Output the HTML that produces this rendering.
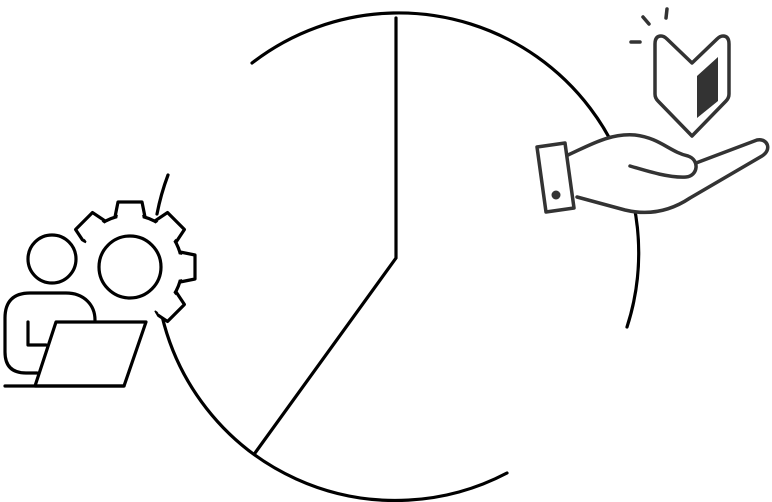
<!DOCTYPE html>
<html><head><style>html,body{margin:0;padding:0;background:#fff;}svg{display:block}</style></head>
<body>
<svg width="772" height="502" viewBox="0 0 772 502" xmlns="http://www.w3.org/2000/svg">
<defs>
<clipPath id="gc"><polygon points="130,267 42,220 60,160 240,160 240,330 178,354"/></clipPath>
</defs>
<g fill="none" stroke="#000" stroke-width="3.2" stroke-linecap="round">
<path d="M252,63 A240,240 0 0 1 627,327"/>
<path d="M507,473 A240,240 0 0 1 162,316"/>
<path d="M157,214 A240,240 0 0 1 168,175"/>
<path d="M396,18 L396,258 L255,453"/>
</g>
<!-- gear -->
<g clip-path="url(#gc)">
<g fill="#fff" stroke="#000" stroke-width="3.2" stroke-linejoin="round">
<polygon points="-12,-65 12,-65 15,-50 -15,-50" transform="translate(130,267) rotate(0)"/>
<polygon points="-12,-65 12,-65 15,-50 -15,-50" transform="translate(130,267) rotate(45)"/>
<polygon points="-12,-65 12,-65 15,-50 -15,-50" transform="translate(130,267) rotate(90)"/>
<polygon points="-12,-65 12,-65 15,-50 -15,-50" transform="translate(130,267) rotate(135)"/>
<polygon points="-12,-65 12,-65 15,-50 -15,-50" transform="translate(130,267) rotate(180)"/>
<polygon points="-12,-65 12,-65 15,-50 -15,-50" transform="translate(130,267) rotate(225)"/>
<polygon points="-12,-65 12,-65 15,-50 -15,-50" transform="translate(130,267) rotate(270)"/>
<polygon points="-12,-65 12,-65 15,-50 -15,-50" transform="translate(130,267) rotate(315)"/>
<circle cx="130" cy="267" r="52"/>
</g>
<g fill="#fff">
<polygon points="-10.3,-63 10.3,-63 13,-47 -13,-47" transform="translate(130,267) rotate(0)"/>
<polygon points="-10.3,-63 10.3,-63 13,-47 -13,-47" transform="translate(130,267) rotate(45)"/>
<polygon points="-10.3,-63 10.3,-63 13,-47 -13,-47" transform="translate(130,267) rotate(90)"/>
<polygon points="-10.3,-63 10.3,-63 13,-47 -13,-47" transform="translate(130,267) rotate(135)"/>
<polygon points="-10.3,-63 10.3,-63 13,-47 -13,-47" transform="translate(130,267) rotate(180)"/>
<polygon points="-10.3,-63 10.3,-63 13,-47 -13,-47" transform="translate(130,267) rotate(225)"/>
<polygon points="-10.3,-63 10.3,-63 13,-47 -13,-47" transform="translate(130,267) rotate(270)"/>
<polygon points="-10.3,-63 10.3,-63 13,-47 -13,-47" transform="translate(130,267) rotate(315)"/>
</g>
</g>
<circle cx="130" cy="267" r="31" fill="none" stroke="#000" stroke-width="3.2"/>
<!-- person -->
<g fill="none" stroke="#000" stroke-width="3.2" stroke-linejoin="round" stroke-linecap="round">
<circle cx="52" cy="259" r="24"/>
<path d="M95,320 C95,305 84,293 66,293 L30,293 Q5,293 5,318 L5,352 Q5,373 26,373 L37,373"/>
<path d="M28,322 L28,345 L46,345"/>
<path d="M56,322 L146,322 L124,386 L35,386 Z" fill="#fff"/>
<path d="M5,386 L124,386"/>
</g>
<!-- badge & hand -->
<path d="M568,155 C590,145 610,133 635,135 C660,138 670,152 688,156 L696,163 L757,140 C768,138 772,150 762,156 L690,198 C672,210 650,216 625,210 L577,197 Z" fill="#fff"/>
<g fill="none" stroke="#333" stroke-width="3.5" stroke-linejoin="round" stroke-linecap="round">
<path d="M667,9 L666,18 M643,17 L649,24 M631,42 L640,42"/>
<path d="M661,36 Q655,36 655,44 L655,94 Q655,98 658,101 L692,136 L726,101 Q729,98 729,94 L729,44 Q729,36 723,36 Q720,36 717,39 L692,63 L667,39 Q664,36 661,36 Z"/>
<path d="M537,147 L565,143 L574,208 L546,212 Z" fill="#fff"/>
<path d="M568,155 C590,145 610,133 635,135 C660,138 670,152 688,156 C700,160 698,176 686,177 C670,178 650,172 630,166"/>
<path d="M696,163 L757,140 C768,138 772,150 762,156 L690,198 C672,210 650,216 625,210 L577,197"/>
</g>
<circle cx="556" cy="195" r="4.5" fill="#333"/>
<polygon points="697,76 718,57 718,101 697,118" fill="#333"/>
</svg>
</body></html>
